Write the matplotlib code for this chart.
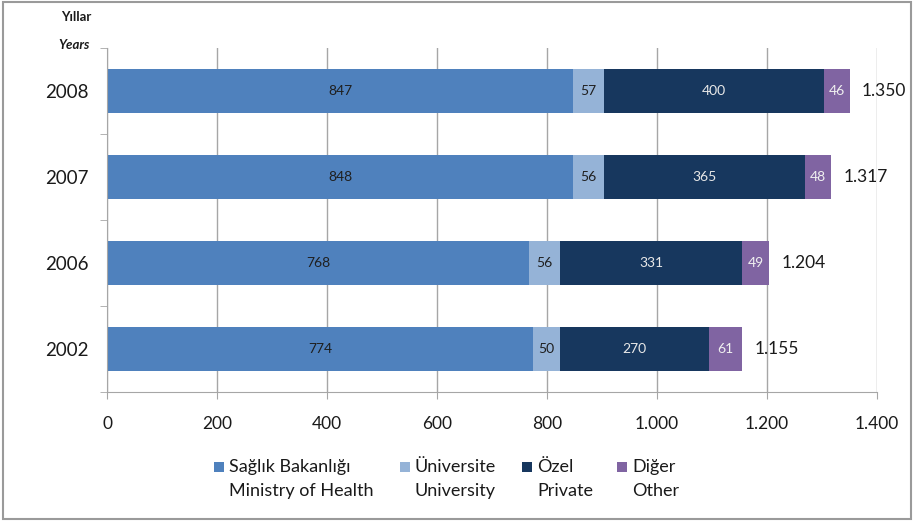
import matplotlib.pyplot as plt
from matplotlib.patches import Rectangle
from matplotlib.ticker import MultipleLocator, FuncFormatter, FixedLocator

plt.rcParams['font.family'] = ['Lato', 'DejaVu Sans']

years = ['2002', '2006', '2007', '2008']
saglik = [774, 768, 848, 847]
universite = [50, 56, 56, 57]
ozel = [270, 331, 365, 400]
diger = [61, 49, 48, 46]
totals = [1155, 1204, 1317, 1350]

series = [
    ('Sağlık Bakanlığı\nMinistry of Health', saglik, '#4F81BD', '#1F1F1F'),
    ('Üniversite\nUniversity', universite, '#95B3D7', '#1F1F1F'),
    ('Özel\nPrivate', ozel, '#17375E', '#E8E8E8'),
    ('Diğer\nOther', diger, '#8064A2', '#F0F0F0'),
]
# legend entry left edges (figure px)
legend_x = [214, 400, 522, 617]


def tr_num(v, pos=None):
    return f'{int(v):,}'.replace(',', '.')


W, H = 915, 525
fig = plt.figure(figsize=(W / 100, H / 100), dpi=100)
ax = fig.add_axes([0.117, 0.2533, 0.8415, 0.6552])

pos = list(range(len(years)))
left = [0] * len(years)
for label, vals, color, tcolor in series:
    bars = ax.barh(pos, vals, left=left, height=0.51, color=color, label=label, zorder=3)
    ax.bar_label(bars, labels=[str(v) for v in vals], label_type='center',
                 color=tcolor, fontsize=10)
    left = [a + b for a, b in zip(left, vals)]

for p, t in zip(pos, totals):
    ax.text(t + 22, p, tr_num(t), va='center', ha='left', fontsize=12.5, color='#1A1A1A')

ax.set_xlim(0, 1400)
ax.set_ylim(-0.5, 3.5)
ax.xaxis.set_major_locator(MultipleLocator(200))
ax.xaxis.set_major_formatter(FuncFormatter(tr_num))
ax.set_yticks(pos)
ax.set_yticklabels(years)
ax.yaxis.set_minor_locator(FixedLocator([-0.5, 0.5, 1.5, 2.5, 3.5]))
ax.tick_params(axis='y', which='major', length=0, pad=13, labelsize=13.5, labelcolor='#1A1A1A')
ax.tick_params(axis='y', which='minor', length=5, color='#A6A6A6')
ax.tick_params(axis='x', length=5, color='#A6A6A6', pad=12, labelsize=12.5, labelcolor='#1A1A1A')

ax.grid(axis='x', color='#A6A6A6', linewidth=1, zorder=0)
for s in ['top', 'right']:
    ax.spines[s].set_visible(False)
for s in ['left', 'bottom']:
    ax.spines[s].set_color('#A6A6A6')
    ax.spines[s].set_zorder(4)

fig.text(0.083, 0.967, 'Yıllar', ha='center', va='center', fontsize=9.5, fontweight='bold', color='#1A1A1A')
fig.text(0.081, 0.914, 'Years', ha='center', va='center', fontsize=9.5, fontweight='bold',
         style='italic', color='#1A1A1A')

# legend: square aligned with first line, two-line labels
for (label, vals, color, tcolor), x in zip(series, legend_x):
    top, bottom = label.split('\n')
    fig.patches.append(Rectangle((x / W, 1 - 472 / H), 10 / W, 10 / H,
                                 transform=fig.transFigure, facecolor=color, edgecolor='none'))
    fig.text((x + 15) / W, 1 - 467 / H, top, ha='left', va='center', fontsize=13, color='#1A1A1A')
    fig.text((x + 15) / W, 1 - 491 / H, bottom, ha='left', va='center', fontsize=13, color='#1A1A1A')

fig.patches.append(Rectangle((0.003, 0.012), 0.993, 0.984, transform=fig.transFigure,
                             fill=False, edgecolor='#9A9A9A', linewidth=1.5))

fig.savefig('out.png', dpi=100)
